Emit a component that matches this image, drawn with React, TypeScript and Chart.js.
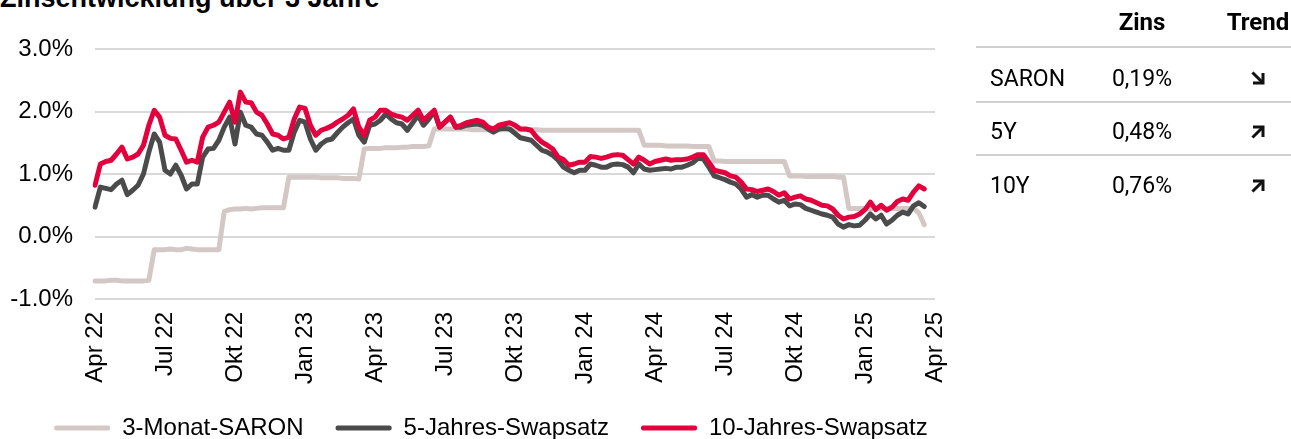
import React, { useEffect, useRef } from 'react';
import { Chart, registerables } from 'chart.js';

Chart.register(...registerables);

// ---------- Data ----------
const quarterLabels = [
  'Apr 22', 'Jul 22', 'Okt 22', 'Jan 23', 'Apr 23', 'Jul 23', 'Okt 23',
  'Jan 24', 'Apr 24', 'Jul 24', 'Okt 24', 'Jan 25', 'Apr 25',
];
const WEEKS_PER_QUARTER = 13;

const seriesNames = ['3-Monat-SARON', '5-Jahres-Swapsatz', '10-Jahres-Swapsatz'];
const seriesColors = ['#D3C8C6', '#4B4B4B', '#E3003D'];

const saron = [
  -0.71, -0.71, -0.71, -0.70, -0.70, -0.71, -0.71, -0.71, -0.71, -0.71, -0.70,
  -0.21, -0.21, -0.21, -0.20, -0.21, -0.21, -0.19, -0.20, -0.21, -0.21, -0.21, -0.21, -0.21,
  0.40, 0.43, 0.44, 0.44, 0.45, 0.44, 0.45, 0.46, 0.46, 0.46, 0.46, 0.46,
  0.95, 0.95, 0.95, 0.95, 0.95, 0.95, 0.94, 0.94, 0.94, 0.94, 0.93, 0.93, 0.93, 0.92,
  1.40, 1.41, 1.41, 1.41, 1.42, 1.42, 1.42, 1.43, 1.43, 1.44, 1.44, 1.44, 1.45,
  1.72, 1.72, 1.72, 1.72, 1.72, 1.72, 1.72, 1.71, 1.71, 1.71, 1.71, 1.71, 1.71,
  1.71, 1.71, 1.71, 1.71, 1.71, 1.71, 1.71, 1.70, 1.70, 1.70, 1.70, 1.70, 1.70,
  1.70, 1.70, 1.70, 1.70, 1.70, 1.70, 1.70, 1.70, 1.70, 1.70, 1.70, 1.70, 1.70,
  1.46, 1.46, 1.46, 1.46, 1.45, 1.45, 1.45, 1.45, 1.45, 1.44, 1.44, 1.44, 1.44,
  1.21, 1.21, 1.20, 1.20, 1.20, 1.20, 1.20, 1.20, 1.20, 1.20, 1.20, 1.20, 1.20, 1.20,
  0.97, 0.97, 0.97, 0.96, 0.96, 0.96, 0.96, 0.96, 0.96, 0.95, 0.95,
  0.45, 0.45, 0.45, 0.45, 0.45, 0.45, 0.45, 0.45, 0.45, 0.45, 0.45, 0.45, 0.45,
  0.38, 0.19,
];

const swap5y = [
  0.47, 0.79, 0.77, 0.75, 0.84, 0.90, 0.67, 0.74, 0.82, 1.00,
  1.35, 1.64, 1.51, 1.06, 1.00, 1.14, 0.98, 0.76, 0.84, 0.84,
  1.27, 1.40, 1.41, 1.54, 1.75, 1.91, 1.48, 1.99, 1.78, 1.75,
  1.64, 1.62, 1.51, 1.38, 1.41, 1.38, 1.38, 1.67, 1.86, 1.83,
  1.56, 1.38, 1.48, 1.54, 1.56, 1.66, 1.75, 1.82, 1.88, 1.62,
  1.51, 1.78, 1.80, 1.86, 1.96, 1.88, 1.82, 1.80, 1.70, 1.82,
  1.94, 1.78, 1.88, 2.00, 1.75, 1.83, 1.91, 1.75, 1.75, 1.78,
  1.79, 1.80, 1.78, 1.72, 1.67, 1.72, 1.73, 1.72, 1.65, 1.58,
  1.56, 1.54, 1.46, 1.38, 1.35, 1.30, 1.22, 1.11, 1.06, 1.02,
  1.06, 1.06, 1.16, 1.14, 1.11, 1.11, 1.15, 1.16, 1.15, 1.11,
  1.02, 1.16, 1.08, 1.06, 1.07, 1.08, 1.09, 1.08, 1.11, 1.11,
  1.14, 1.18, 1.25, 1.24, 1.11, 0.97, 0.94, 0.91, 0.87, 0.84,
  0.76, 0.63, 0.67, 0.63, 0.66, 0.66, 0.60, 0.55, 0.58, 0.49,
  0.52, 0.51, 0.45, 0.42, 0.39, 0.36, 0.34, 0.31, 0.20, 0.15,
  0.19, 0.17, 0.18, 0.26, 0.36, 0.28, 0.34, 0.20, 0.26, 0.34,
  0.39, 0.36, 0.49, 0.54, 0.48,
];

const swap10y = [
  0.82, 1.16, 1.20, 1.22, 1.32, 1.43, 1.24, 1.27, 1.32, 1.46,
  1.78, 2.02, 1.91, 1.62, 1.57, 1.56, 1.38, 1.19, 1.22, 1.19,
  1.59, 1.75, 1.78, 1.83, 1.99, 2.15, 1.83, 2.31, 2.15, 2.14,
  1.99, 1.94, 1.80, 1.64, 1.62, 1.56, 1.59, 1.88, 2.07, 2.05,
  1.78, 1.62, 1.70, 1.73, 1.77, 1.83, 1.88, 1.94, 2.04, 1.75,
  1.62, 1.86, 1.91, 2.02, 2.02, 1.96, 1.93, 1.91, 1.86, 1.94,
  2.02, 1.86, 1.94, 2.02, 1.75, 1.83, 1.91, 1.75, 1.78, 1.82,
  1.84, 1.86, 1.83, 1.75, 1.72, 1.78, 1.80, 1.82, 1.78, 1.72,
  1.72, 1.70, 1.59, 1.51, 1.46, 1.40, 1.27, 1.23, 1.14, 1.16,
  1.19, 1.19, 1.28, 1.27, 1.25, 1.27, 1.30, 1.31, 1.30, 1.23,
  1.16, 1.27, 1.22, 1.16, 1.20, 1.22, 1.24, 1.22, 1.23, 1.23,
  1.24, 1.27, 1.31, 1.31, 1.19, 1.06, 1.04, 1.02, 0.97, 0.95,
  0.87, 0.76, 0.75, 0.72, 0.74, 0.76, 0.72, 0.66, 0.70, 0.60,
  0.63, 0.65, 0.60, 0.58, 0.54, 0.50, 0.49, 0.44, 0.34, 0.28,
  0.31, 0.32, 0.36, 0.43, 0.55, 0.43, 0.50, 0.42, 0.47, 0.56,
  0.60, 0.58, 0.71, 0.81, 0.76,
];

const yTicks = [-1, 0, 1, 2, 3];

// Table on the right
const tableHeaders = ['Zins', 'Trend'];
const tableNames = ['SARON', '5Y', '10Y'];
const tableRates = ['0,19%', '0,48%', '0,76%'];
const tableTrends = ['down', 'up', 'up'];

const title = 'Zinsentwicklung über 3 Jahre';

// weekly category labels with quarter names on quarter starts
const weekLabels: string[] = [];
for (let q = 0; q < quarterLabels.length; q++) {
  weekLabels.push(quarterLabels[q]);
  if (q < quarterLabels.length - 1) {
    for (let w = 1; w < WEEKS_PER_QUARTER; w++) weekLabels.push('');
  }
}

const CHART_FONT = '"Liberation Sans", Arial, sans-serif';
const TABLE_FONT = 'Roboto, "Liberation Sans", sans-serif';

function Arrow({ dir }: { dir: string }) {
  const down = dir === 'down';
  return (
    <svg width="15" height="15" viewBox="0 0 15 15" style={{ display: 'block' }}>
      {down ? (
        <g fill="none" stroke="#111" strokeWidth="3" strokeLinecap="square">
          <line x1="2.5" y1="2.5" x2="11" y2="11" />
          <polyline points="3.5,12 12,12 12,3.5" />
        </g>
      ) : (
        <g fill="none" stroke="#111" strokeWidth="3" strokeLinecap="square">
          <line x1="2.5" y1="12.5" x2="11" y2="4" />
          <polyline points="3.5,3 12,3 12,11.5" />
        </g>
      )}
    </svg>
  );
}

function LineChart() {
  const ref = useRef<HTMLCanvasElement | null>(null);
  useEffect(() => {
    if (!ref.current) return;
    const datasets = [saron, swap5y, swap10y].map((d, i) => ({
      label: seriesNames[i],
      data: d,
      borderColor: seriesColors[i],
      backgroundColor: seriesColors[i],
      borderWidth: 5,
      pointRadius: 0,
      tension: 0,
      fill: false,
      order: 3 - i,
      borderJoinStyle: 'round' as const,
      borderCapStyle: 'round' as const,
    }));
    const chart = new Chart(ref.current, {
      type: 'line',
      data: { labels: weekLabels, datasets },
      options: {
        animation: false,
        responsive: true,
        maintainAspectRatio: false,
        layout: { padding: { top: 49, left: 0, right: 0, bottom: 0 } },
        plugins: {
          tooltip: { enabled: false },
          legend: {
            position: 'bottom',
            align: 'center',
            labels: {
              boxWidth: 56,
              boxHeight: 5,
              padding: 32,
              color: '#000',
              font: { family: CHART_FONT, size: 24 },
              generateLabels: (c: any) =>
                Chart.defaults.plugins.legend.labels
                  .generateLabels(c)
                  .map((l: any) => ({ ...l, lineWidth: 0, fillStyle: l.strokeStyle, borderRadius: 2 }))
                  .sort((a: any, b: any) => a.datasetIndex - b.datasetIndex),
            },
          },
        },
        scales: {
          x: {
            grid: { display: false, drawTicks: false },
            border: { display: false },
            ticks: {
              autoSkip: false,
              maxRotation: 90,
              minRotation: 90,
              padding: 13,
              color: '#000',
              font: { family: CHART_FONT, size: 24 },
            },
            afterFit: (s: any) => {
              s.height = 85;
            },
          },
          y: {
            min: yTicks[0],
            max: yTicks[yTicks.length - 1],
            afterBuildTicks: (s: any) => {
              s.ticks = yTicks.map((v) => ({ value: v }));
            },
            ticks: {
              padding: 22,
              color: '#000',
              font: { family: CHART_FONT, size: 24 },
              callback: (v: any) => Number(v).toFixed(1) + '%',
            },
            grid: { color: '#D9D9D9', lineWidth: 2, drawTicks: false },
            border: { display: false },
            afterFit: (s: any) => {
              s.width = 95;
            },
          },
          // empty spacer on the right so the legend row has room
          ySpacer: {
            position: 'right',
            display: true,
            grid: { display: false, drawTicks: false },
            border: { display: false },
            ticks: { display: false },
            afterFit: (s: any) => {
              s.width = 47;
            },
          },
        },
      } as any,
    });
    return () => chart.destroy();
  }, []);
  return <canvas ref={ref} />;
}

export default function App() {
  const rowCenters = [78, 131.5, 185.5];
  const lineYs = [46, 101, 154];
  return (
    <div
      style={{
        position: 'absolute',
        left: 0,
        top: 0,
        width: 1291,
        height: 439,
        overflow: 'hidden',
        background: '#fff',
      }}
    >
      <div
        style={{
          position: 'absolute',
          left: 0,
          top: -15,
          fontFamily: CHART_FONT,
          fontWeight: 'bold',
          fontSize: 27,
          lineHeight: '27px',
          color: '#000',
          whiteSpace: 'nowrap',
        }}
      >
        {title}
      </div>
      <div style={{ position: 'absolute', left: 0, top: 0, width: 982, height: 450 }}>
        <LineChart />
      </div>
      {/* table */}
      <div style={{ position: 'absolute', left: 0, top: 0, width: 1291, height: 439, fontFamily: TABLE_FONT, color: '#000' }}>
        <div style={{ position: 'absolute', left: 1092, width: 100, top: 10, textAlign: 'center', fontWeight: 'bold', fontSize: 24, lineHeight: '24px' }}>
          {tableHeaders[0]}
        </div>
        <div style={{ position: 'absolute', left: 1208, width: 100, top: 10, textAlign: 'center', fontWeight: 'bold', fontSize: 24, lineHeight: '24px' }}>
          {tableHeaders[1]}
        </div>
        {lineYs.map((y, i) => (
          <div key={'l' + i} style={{ position: 'absolute', left: 976, width: 315, top: y, height: 2, background: '#D0D0D0' }} />
        ))}
        {tableNames.map((n, i) => (
          <React.Fragment key={n}>
            <div style={{ position: 'absolute', left: 990, top: rowCenters[i] - 11.5, fontSize: 23, lineHeight: '23px' }}>{n}</div>
            <div style={{ position: 'absolute', left: 1092, width: 100, textAlign: 'center', top: rowCenters[i] - 11.5, fontSize: 23, lineHeight: '23px' }}>
              {tableRates[i]}
            </div>
            <div style={{ position: 'absolute', left: 1251, top: rowCenters[i] - 7.5 }}>
              <Arrow dir={tableTrends[i]} />
            </div>
          </React.Fragment>
        ))}
      </div>
    </div>
  );
}
